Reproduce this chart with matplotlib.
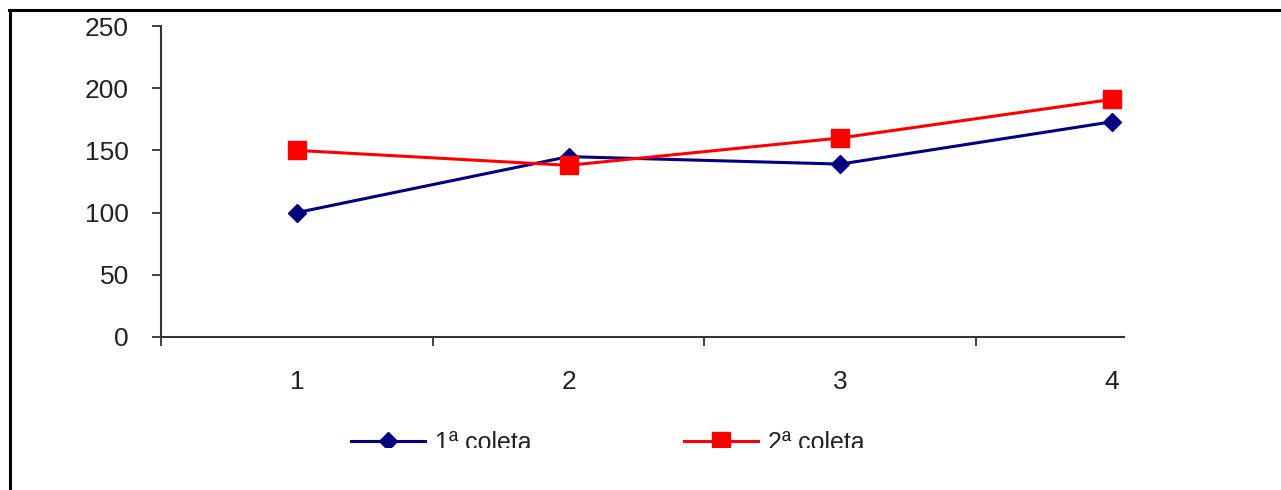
import matplotlib.pyplot as plt
from matplotlib.lines import Line2D
from matplotlib.patches import Rectangle

plt.rcParams['font.family'] = ['Liberation Sans', 'DejaVu Sans']

# Dados das duas coletas
coletas = [1, 2, 3, 4]
coleta1 = [100, 145, 139, 173]
coleta2 = [150, 138, 160, 191]
yticks = [0, 50, 100, 150, 200, 250]

W, H = 1281, 490
fig = plt.figure(figsize=(W / 100, H / 100), dpi=100)
ax = fig.add_axes([161 / W, (H - 337) / H, (1124 - 161) / W, (337 - 26) / H])

ax.plot(coletas, coleta1, color='#000080', lw=2.2, marker='D', ms=9.5,
        label='1ª coleta', clip_on=False)
ax.plot(coletas, coleta2, color='#ff0000', lw=2.2, marker='s', ms=13,
        label='2ª coleta', clip_on=False)

ax.set_ylim(0, 250)
ax.set_xlim(0.5, 0.5 + 963 / 271.7)
ax.set_yticks(yticks)

# marcas entre categorias, rótulos no centro
ax.set_xticks([0.5, 1.5, 2.5, 3.5])
ax.set_xticklabels([])
ax.set_xticks(coletas, minor=True)
ax.set_xticklabels([str(c) for c in coletas], minor=True)
ax.tick_params(axis='x', which='minor', length=0, pad=24, labelsize=19, labelcolor='#222222')
ax.tick_params(axis='x', which='major', length=6.5, width=1.3, color='#333333')
ax.tick_params(axis='y', length=6.5, width=1.3, color='#333333', pad=16.5,
               labelsize=19, labelcolor='#222222')

for s in ['top', 'right']:
    ax.spines[s].set_visible(False)
for s in ['left', 'bottom']:
    ax.spines[s].set_color('#333333')
    ax.spines[s].set_linewidth(1.5)

fig.legend(loc='center left', bbox_to_anchor=(351 / W, (H - 443) / H), ncol=2,
           frameon=False, fontsize=18, handlelength=2.95, handletextpad=0.4,
           columnspacing=6.1, borderpad=0, borderaxespad=0, labelcolor='#222222')

# faixa branca que corta a legenda embaixo
fig.add_artist(Rectangle((300 / W, 0), 700 / W, (H - 448) / H, transform=fig.transFigure,
                         facecolor='white', edgecolor='none', zorder=20))

# moldura externa
fig.add_artist(Line2D([9.5 / W, 9.5 / W], [0, (H - 10) / H], transform=fig.transFigure,
                      color='black', lw=2.2))
fig.add_artist(Line2D([8.5 / W, 1], [(H - 10.5) / H, (H - 10.5) / H], transform=fig.transFigure,
                      color='black', lw=2.2))

fig.savefig('out.png', dpi=100)
